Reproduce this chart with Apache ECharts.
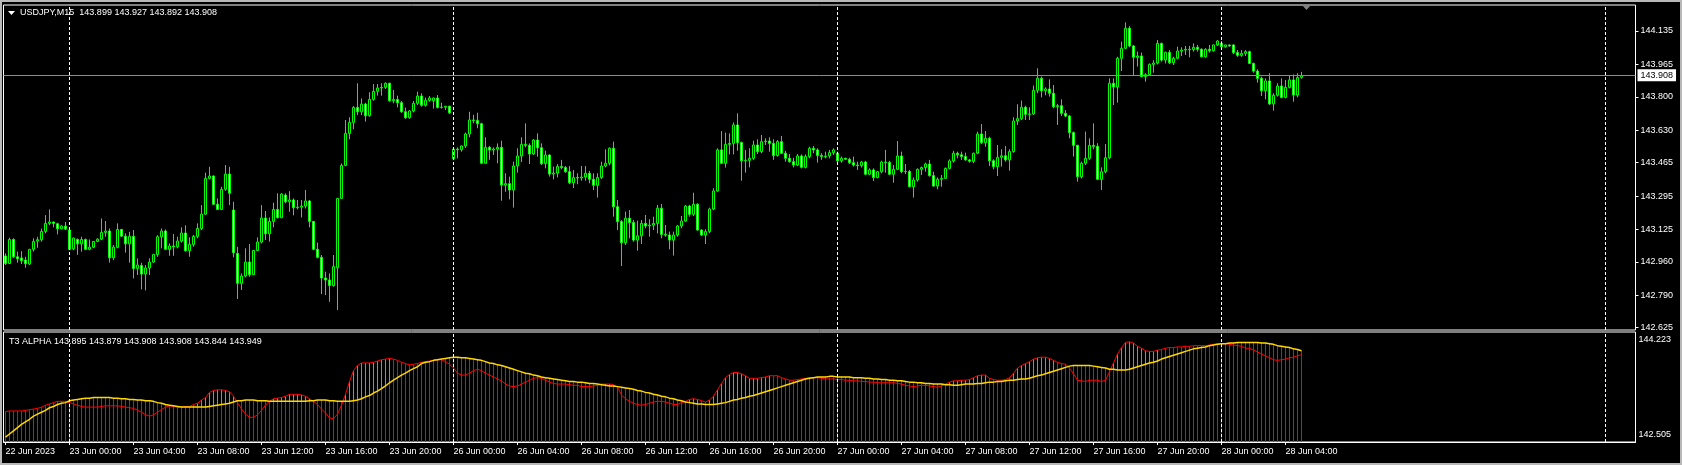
<!DOCTYPE html>
<html><head><meta charset="utf-8">
<script src="https://cdn.jsdelivr.net/npm/echarts@6/dist/echarts.min.js"></script>
<style>html,body{margin:0;padding:0;background:#000;overflow:hidden}#c{width:1682px;height:465px}</style>
</head><body><div id="c"></div>
<script>
// ---------------- data (USDJPY M15, 22 Jun 20:00 .. 28 Jun 05:00) ----------------
const open = [
142.990,142.952,143.074,142.986,142.980,142.969,142.949,143.024,143.066,143.073,
143.115,143.156,143.163,143.154,143.129,143.142,143.122,143.027,143.074,143.052,
143.074,143.024,143.035,143.064,143.076,143.110,143.117,142.981,143.034,143.125,
143.090,143.052,143.090,142.927,142.942,142.898,142.929,142.959,142.998,143.088,
143.117,143.024,143.041,143.037,143.066,143.107,143.017,143.049,143.090,143.130,
143.203,143.385,143.397,143.253,143.227,143.329,143.407,143.224,143.003,142.851,
142.888,142.959,142.895,143.018,143.061,143.183,143.103,143.166,143.227,143.185,
143.300,143.266,143.275,143.236,143.239,143.244,143.270,143.166,143.024,142.983,
142.878,142.868,142.839,142.930,143.283,143.451,143.614,143.670,143.746,143.724,
143.763,143.704,143.787,143.828,143.845,143.848,143.869,143.780,143.787,143.770,
143.724,143.694,143.728,143.767,143.804,143.757,143.782,143.780,143.794,143.746,
143.747,143.752,143.485,143.534,143.531,143.550,143.611,143.682,143.680,143.663,
143.462,143.543,143.529,143.534,143.543,143.351,143.358,143.326,143.448,143.499,
143.558,143.553,143.509,143.580,143.541,143.460,143.504,143.407,143.412,143.445,
143.440,143.419,143.363,143.389,143.387,143.392,143.411,143.380,143.350,143.389,
143.448,143.462,143.538,143.241,143.165,143.058,143.182,143.160,143.071,143.093,
143.156,143.143,143.147,143.156,143.233,143.100,143.097,143.071,143.097,143.143,
143.168,143.244,143.202,143.253,143.122,143.097,143.114,143.229,143.321,143.530,
143.462,143.558,143.563,143.657,143.567,143.475,143.477,143.487,143.555,143.521,
143.572,143.575,143.563,143.501,143.572,143.513,143.487,143.470,143.453,143.499,
143.441,143.496,143.538,143.530,143.501,143.496,143.499,143.516,143.513,143.475,
143.487,143.482,143.465,143.453,143.450,143.468,143.406,143.428,143.389,143.419,
143.468,143.466,143.406,143.431,143.499,143.419,143.420,143.343,143.377,143.431,
143.440,143.458,143.399,143.346,143.380,143.385,143.436,143.474,143.513,143.505,
143.496,143.479,143.472,143.513,143.611,143.567,143.589,143.475,143.445,143.492,
143.500,143.479,143.521,143.677,143.689,143.747,143.711,143.713,143.833,143.894,
143.831,143.840,143.818,143.750,143.755,143.716,143.702,143.618,143.553,143.394,
143.462,143.487,143.553,143.548,143.380,143.419,143.490,143.869,143.850,143.996,
144.047,144.149,144.059,144.001,144.008,143.903,143.913,143.965,143.972,144.072,
143.987,144.026,143.974,143.996,144.033,144.038,144.042,144.040,144.052,144.042,
144.004,144.042,144.035,144.064,144.072,144.055,144.064,144.064,144.025,144.011,
144.021,144.030,143.970,143.931,143.894,143.831,143.881,143.764,143.808,143.855,
143.797,143.848,143.886,143.809,143.899];
const close = [
142.952,143.074,142.986,142.976,142.966,142.951,143.024,143.064,143.073,143.115,
143.156,143.163,143.156,143.129,143.142,143.127,143.024,143.081,143.052,143.074,
143.024,143.035,143.064,143.076,143.110,143.117,142.981,143.035,143.125,143.091,
143.052,143.090,142.927,142.944,142.898,142.929,142.959,142.998,143.088,143.117,
143.024,143.041,143.037,143.066,143.107,143.017,143.049,143.090,143.130,143.203,
143.385,143.397,143.253,143.227,143.329,143.407,143.309,143.007,142.851,142.888,
142.959,142.895,143.018,143.061,143.183,143.103,143.166,143.227,143.185,143.305,
143.266,143.275,143.236,143.239,143.244,143.270,143.166,143.024,142.983,142.878,
142.868,142.840,142.936,143.283,143.451,143.614,143.670,143.746,143.724,143.763,
143.704,143.787,143.828,143.845,143.848,143.869,143.780,143.787,143.770,143.724,
143.694,143.728,143.767,143.804,143.757,143.782,143.794,143.794,143.746,143.747,
143.752,143.719,143.534,143.531,143.550,143.611,143.682,143.680,143.663,143.462,
143.543,143.529,143.534,143.543,143.351,143.358,143.326,143.448,143.499,143.558,
143.553,143.509,143.580,143.541,143.460,143.504,143.407,143.412,143.445,143.440,
143.419,143.363,143.389,143.387,143.392,143.411,143.380,143.350,143.389,143.448,
143.462,143.538,143.241,143.165,143.058,143.182,143.160,143.071,143.093,143.156,
143.143,143.147,143.156,143.233,143.100,143.097,143.071,143.097,143.143,143.168,
143.244,143.202,143.253,143.122,143.097,143.114,143.229,143.321,143.530,143.462,
143.558,143.563,143.657,143.567,143.475,143.477,143.487,143.555,143.521,143.572,
143.575,143.563,143.501,143.572,143.513,143.487,143.470,143.453,143.499,143.441,
143.496,143.538,143.530,143.501,143.496,143.499,143.516,143.530,143.475,143.487,
143.482,143.465,143.453,143.450,143.468,143.406,143.428,143.389,143.419,143.468,
143.466,143.406,143.431,143.499,143.419,143.420,143.343,143.377,143.431,143.440,
143.458,143.399,143.346,143.380,143.385,143.436,143.474,143.513,143.505,143.496,
143.479,143.472,143.513,143.611,143.567,143.589,143.475,143.445,143.492,143.500,
143.479,143.521,143.677,143.689,143.747,143.711,143.713,143.833,143.894,143.831,
143.840,143.818,143.750,143.755,143.716,143.702,143.618,143.553,143.394,143.462,
143.487,143.553,143.548,143.380,143.419,143.490,143.869,143.850,143.996,144.047,
144.149,144.059,144.001,144.008,143.903,143.913,143.965,143.972,144.072,143.987,
144.026,143.974,143.996,144.033,144.038,144.042,144.040,144.052,144.042,144.004,
144.042,144.035,144.064,144.084,144.055,144.064,144.059,144.025,144.011,144.021,
144.030,143.970,143.931,143.894,143.831,143.881,143.764,143.808,143.855,143.797,
143.848,143.886,143.809,143.898,143.908];
const low = [
142.944,142.949,142.980,142.956,142.949,142.930,142.945,143.012,143.032,143.063,
143.105,143.147,143.136,143.100,143.125,143.122,143.020,143.020,142.996,143.012,
143.020,143.020,143.030,143.062,143.071,143.088,142.956,142.969,143.029,143.088,
143.007,142.956,142.876,142.893,142.820,142.815,142.893,142.955,142.986,143.029,
143.020,142.991,142.991,143.029,143.058,143.012,142.986,143.037,143.080,143.122,
143.198,143.380,143.250,143.224,143.227,143.322,143.249,142.983,142.771,142.817,
142.881,142.884,142.893,143.015,143.054,143.071,143.063,143.136,143.181,143.183,
143.258,143.215,143.197,143.227,143.186,143.232,143.136,143.020,142.978,142.796,
142.791,142.757,142.834,142.715,143.283,143.448,143.584,143.635,143.707,143.707,
143.674,143.699,143.780,143.806,143.806,143.840,143.775,143.767,143.746,143.719,
143.687,143.689,143.721,143.758,143.750,143.750,143.775,143.740,143.741,143.740,
143.733,143.713,143.480,143.487,143.521,143.540,143.594,143.665,143.640,143.458,
143.460,143.479,143.504,143.462,143.271,143.317,143.278,143.236,143.414,143.468,
143.543,143.458,143.504,143.495,143.453,143.436,143.394,143.380,143.390,143.431,
143.414,143.356,143.336,143.355,143.373,143.373,143.360,143.326,143.287,143.382,
143.441,143.451,143.190,143.122,142.939,143.046,143.080,143.063,143.017,143.051,
143.131,143.088,143.122,143.105,143.080,143.088,143.024,142.992,143.088,143.131,
143.165,143.190,143.194,143.119,143.092,143.051,143.105,143.224,143.317,143.458,
143.440,143.507,143.507,143.526,143.373,143.414,143.441,143.479,143.509,143.513,
143.555,143.521,143.479,143.496,143.509,143.470,143.465,143.441,143.448,143.436,
143.436,143.487,143.513,143.465,143.479,143.487,143.487,143.504,143.465,143.465,
143.479,143.458,143.445,143.428,143.440,143.401,143.401,143.372,143.385,143.411,
143.414,143.401,143.363,143.428,143.411,143.407,143.340,143.287,143.368,143.402,
143.419,143.394,143.343,143.329,143.343,143.385,143.431,143.465,143.487,143.479,
143.475,143.465,143.462,143.509,143.560,143.546,143.448,143.431,143.397,143.445,
143.470,143.424,143.516,143.657,143.682,143.682,143.682,143.708,143.818,143.797,
143.808,143.801,143.742,143.657,143.702,143.696,143.589,143.496,143.368,143.385,
143.453,143.479,143.533,143.377,143.326,143.411,143.482,143.758,143.770,143.931,
144.042,144.052,143.911,143.954,143.899,143.877,143.908,143.923,143.965,143.979,
143.970,143.967,143.962,143.991,144.008,144.013,144.001,144.030,144.030,144.001,
143.999,144.025,144.030,144.059,144.047,144.050,144.055,144.018,144.004,144.004,
144.008,143.967,143.923,143.872,143.804,143.787,143.759,143.730,143.801,143.792,
143.792,143.843,143.775,143.797,143.892];
const high = [
143.003,143.083,143.080,143.012,143.015,142.986,143.026,143.080,143.088,143.130,
143.198,143.227,143.165,143.159,143.146,143.163,143.125,143.083,143.079,143.088,
143.079,143.074,143.066,143.080,143.181,143.168,143.130,143.046,143.156,143.128,
143.105,143.113,143.122,142.978,142.956,142.944,142.978,143.000,143.096,143.130,
143.125,143.054,143.102,143.088,143.136,143.146,143.085,143.097,143.156,143.249,
143.414,143.444,143.400,143.283,143.342,143.453,143.444,143.266,143.037,142.901,
143.029,143.051,143.020,143.085,143.249,143.219,143.186,143.261,143.309,143.310,
143.309,143.320,143.283,143.275,143.275,143.326,143.275,143.168,143.058,142.995,
142.910,142.901,142.995,143.283,143.461,143.682,143.696,143.753,143.869,143.792,
143.770,143.823,143.865,143.865,143.869,143.874,143.872,143.835,143.806,143.779,
143.745,143.733,143.779,143.826,143.818,143.796,143.804,143.796,143.809,143.770,
143.753,143.755,143.540,143.543,143.552,143.618,143.724,143.708,143.719,143.668,
143.594,143.550,143.543,143.563,143.577,143.411,143.394,143.470,143.538,143.594,
143.665,143.563,143.585,143.614,143.563,143.526,143.507,143.445,143.458,143.479,
143.448,143.448,143.428,143.411,143.448,143.448,143.423,143.411,143.411,143.470,
143.533,143.543,143.572,143.275,143.173,143.216,143.224,143.173,143.170,143.173,
143.199,143.177,143.190,143.250,143.255,143.148,143.114,143.114,143.148,143.194,
143.250,143.250,143.312,143.258,143.126,143.126,143.236,143.335,143.538,143.626,
143.618,143.614,143.670,143.716,143.572,143.530,143.538,143.577,143.584,143.606,
143.589,143.594,143.584,143.580,143.601,143.525,143.509,143.490,143.509,143.507,
143.507,143.546,143.550,143.538,143.513,143.521,143.530,143.538,143.521,143.496,
143.490,143.490,143.496,143.470,143.474,143.474,143.436,143.436,143.423,143.475,
143.530,143.474,143.453,143.575,143.521,143.458,143.428,143.390,143.436,143.445,
143.465,143.479,143.419,143.390,143.402,143.440,143.482,143.525,143.521,143.521,
143.516,143.484,143.516,143.623,143.662,143.626,143.597,143.482,143.555,143.533,
143.550,143.533,143.696,143.762,143.781,143.755,143.747,143.857,143.945,143.903,
143.848,143.889,143.860,143.764,143.787,143.733,143.708,143.623,143.556,143.470,
143.623,143.589,143.665,143.564,143.441,143.560,143.894,143.894,144.004,144.081,
144.179,144.160,144.064,144.030,144.025,143.920,143.970,143.987,144.089,144.076,
144.030,144.038,144.004,144.055,144.052,144.059,144.059,144.072,144.064,144.047,
144.047,144.064,144.067,144.089,144.084,144.066,144.066,144.067,144.038,144.038,
144.038,144.035,143.974,143.940,143.903,143.894,143.920,143.818,143.869,143.894,
143.886,143.911,143.914,143.920,143.927];

// T3 ALPHA sub-window
const t3Fast = [
142.98,142.99,142.99,142.99,142.99,143.00,143.01,143.02,143.03,143.05,
143.08,143.10,143.12,143.14,143.14,143.14,143.12,143.10,143.08,143.06,
143.05,143.05,143.05,143.05,143.06,143.07,143.07,143.07,143.07,143.06,
143.05,143.04,143.03,143.00,142.97,142.93,142.91,142.93,142.97,143.01,
143.05,143.07,143.06,143.05,143.05,143.06,143.06,143.09,143.11,143.16,
143.20,143.28,143.31,143.32,143.32,143.31,143.29,143.22,143.12,143.02,
142.94,142.89,142.89,142.93,143.00,143.08,143.14,143.18,143.19,143.20,
143.22,143.25,143.25,143.25,143.24,143.22,143.18,143.14,143.09,143.02,
142.96,142.88,142.87,142.94,143.08,143.25,143.45,143.62,143.70,143.74,
143.74,143.74,143.75,143.77,143.79,143.80,143.81,143.80,143.78,143.75,
143.73,143.71,143.72,143.73,143.75,143.76,143.77,143.78,143.79,143.79,
143.76,143.72,143.66,143.58,143.55,143.55,143.58,143.62,143.64,143.62,
143.58,143.55,143.52,143.49,143.46,143.41,143.38,143.37,143.38,143.41,
143.44,143.47,143.50,143.51,143.50,143.47,143.44,143.42,143.41,143.41,
143.41,143.40,143.39,143.39,143.37,143.37,143.37,143.38,143.39,143.41,
143.41,143.41,143.40,143.36,143.24,143.18,143.14,143.11,143.09,143.08,
143.09,143.11,143.13,143.14,143.14,143.13,143.11,143.09,143.09,143.12,
143.14,143.17,143.18,143.17,143.15,143.13,143.16,143.22,143.32,143.42,
143.51,143.56,143.59,143.59,143.57,143.54,143.50,143.50,143.50,143.51,
143.52,143.54,143.54,143.54,143.51,143.49,143.47,143.47,143.48,143.49,
143.50,143.51,143.51,143.51,143.50,143.49,143.49,143.49,143.48,143.48,
143.47,143.47,143.46,143.46,143.45,143.45,143.44,143.44,143.43,143.43,
143.43,143.43,143.43,143.42,143.41,143.39,143.38,143.37,143.38,143.39,
143.39,143.38,143.37,143.36,143.38,143.41,143.44,143.46,143.46,143.47,
143.47,143.48,143.51,143.54,143.55,143.55,143.50,143.48,143.47,143.47,
143.48,143.51,143.58,143.66,143.70,143.73,143.76,143.80,143.82,143.83,
143.83,143.81,143.78,143.75,143.73,143.72,143.66,143.57,143.47,143.46,
143.45,143.47,143.47,143.47,143.45,143.47,143.60,143.74,143.88,143.98,
144.06,144.07,144.05,144.00,143.97,143.93,143.92,143.92,143.94,143.95,
143.97,143.98,143.98,143.99,143.99,144.00,144.00,144.01,144.01,144.01,
144.01,144.02,144.03,144.04,144.04,144.04,144.03,144.02,144.01,144.00,
143.97,143.97,143.94,143.91,143.88,143.85,143.82,143.79,143.78,143.79,
143.80,143.82,143.83,143.85,143.87];
const t3Slow = [
142.58,142.63,142.68,142.73,142.78,142.82,142.86,142.91,142.94,142.97,
143.00,143.04,143.06,143.09,143.11,143.12,143.15,143.16,143.17,143.18,
143.19,143.19,143.20,143.20,143.20,143.20,143.20,143.19,143.19,143.18,
143.18,143.17,143.17,143.16,143.16,143.15,143.15,143.14,143.12,143.11,
143.09,143.08,143.07,143.06,143.05,143.05,143.05,143.05,143.05,143.05,
143.05,143.06,143.07,143.08,143.09,143.10,143.11,143.13,143.15,143.15,
143.16,143.16,143.16,143.15,143.15,143.15,143.14,143.14,143.14,143.14,
143.14,143.14,143.14,143.14,143.14,143.14,143.15,143.15,143.16,143.16,
143.16,143.15,143.15,143.14,143.14,143.14,143.14,143.15,143.16,143.18,
143.21,143.23,143.27,143.30,143.34,143.38,143.43,143.47,143.51,143.55,
143.58,143.62,143.65,143.68,143.73,143.75,143.76,143.78,143.79,143.80,
143.81,143.82,143.83,143.83,143.82,143.82,143.81,143.80,143.79,143.78,
143.76,143.74,143.73,143.71,143.70,143.68,143.66,143.64,143.62,143.60,
143.58,143.57,143.55,143.54,143.52,143.51,143.50,143.49,143.48,143.47,
143.46,143.45,143.45,143.44,143.44,143.43,143.42,143.42,143.41,143.40,
143.39,143.38,143.38,143.37,143.36,143.35,143.34,143.33,143.31,143.30,
143.28,143.27,143.25,143.24,143.22,143.21,143.19,143.18,143.16,143.15,
143.13,143.12,143.11,143.10,143.10,143.09,143.09,143.09,143.10,143.11,
143.12,143.14,143.16,143.17,143.19,143.20,143.22,143.23,143.25,143.27,
143.29,143.31,143.33,143.35,143.37,143.39,143.41,143.43,143.45,143.47,
143.49,143.50,143.51,143.52,143.52,143.52,143.53,143.53,143.52,143.52,
143.52,143.52,143.51,143.51,143.51,143.50,143.50,143.49,143.49,143.48,
143.48,143.47,143.47,143.46,143.46,143.45,143.44,143.44,143.43,143.43,
143.42,143.42,143.41,143.41,143.41,143.40,143.40,143.39,143.39,143.40,
143.41,143.41,143.41,143.42,143.42,143.43,143.44,143.44,143.45,143.45,
143.46,143.47,143.47,143.48,143.49,143.49,143.50,143.52,143.54,143.55,
143.57,143.59,143.61,143.63,143.65,143.67,143.69,143.70,143.70,143.70,
143.70,143.70,143.69,143.68,143.67,143.66,143.64,143.64,143.63,143.63,
143.63,143.64,143.66,143.68,143.70,143.72,143.74,143.75,143.77,143.80,
143.82,143.84,143.86,143.88,143.90,143.92,143.94,143.96,143.97,143.98,
143.99,144.01,144.02,144.03,144.04,144.04,144.05,144.05,144.06,144.06,
144.06,144.06,144.06,144.06,144.05,144.05,144.04,144.03,144.01,144.00,
143.99,143.98,143.96,143.95,143.93];
const histRed = [
142.98,142.99,142.99,142.99,142.99,143.00,143.01,143.02,143.03,143.05,
143.08,143.10,143.12,143.14,143.14,143.14,143.15,143.16,143.17,143.18,
143.19,143.19,143.20,143.20,143.20,143.20,143.20,143.19,143.19,143.18,
143.18,143.17,143.17,143.16,143.16,143.15,143.15,143.14,143.12,143.11,
143.09,143.08,143.07,143.06,143.05,143.06,143.06,143.09,143.05,143.05,
143.05,143.06,143.07,143.08,143.09,143.10,143.11,143.13,143.15,143.15,
143.16,143.16,143.16,143.15,143.15,143.15,143.14,143.14,143.14,143.14,
143.14,143.14,143.14,143.14,143.14,143.14,143.15,143.15,143.16,143.16,
143.16,143.15,143.15,143.14,143.14,143.14,143.14,143.15,143.16,143.18,
143.21,143.23,143.27,143.30,143.34,143.38,143.43,143.80,143.78,143.75,
143.73,143.71,143.72,143.73,143.75,143.76,143.77,143.78,143.79,143.80,
143.81,143.82,143.83,143.83,143.82,143.82,143.81,143.80,143.79,143.78,
143.76,143.74,143.73,143.71,143.70,143.68,143.66,143.64,143.62,143.60,
143.58,143.57,143.55,143.54,143.52,143.51,143.50,143.49,143.48,143.47,
143.46,143.45,143.45,143.44,143.44,143.43,143.42,143.42,143.41,143.40,
143.39,143.38,143.40,143.37,143.36,143.35,143.34,143.33,143.31,143.30,
143.28,143.27,143.25,143.24,143.22,143.21,143.19,143.18,143.16,143.15,
143.13,143.12,143.11,143.10,143.15,143.13,143.09,143.09,143.10,143.11,
143.12,143.14,143.16,143.17,143.19,143.20,143.22,143.23,143.25,143.27,
143.29,143.31,143.54,143.54,143.51,143.49,143.47,143.47,143.48,143.49,
143.50,143.51,143.51,143.52,143.52,143.52,143.53,143.53,143.52,143.52,
143.52,143.52,143.51,143.51,143.51,143.50,143.50,143.49,143.49,143.48,
143.48,143.47,143.47,143.46,143.46,143.45,143.44,143.44,143.43,143.43,
143.42,143.42,143.41,143.41,143.41,143.40,143.40,143.39,143.39,143.40,
143.41,143.41,143.41,143.42,143.42,143.43,143.50,143.48,143.47,143.47,
143.48,143.51,143.47,143.48,143.49,143.49,143.50,143.52,143.54,143.55,
143.57,143.59,143.61,143.75,143.73,143.72,143.69,143.70,143.70,143.70,
143.70,143.70,143.69,143.68,143.67,143.66,143.64,143.64,143.63,143.63,
143.63,143.64,143.66,143.68,143.70,143.72,143.74,143.75,143.77,143.95,
143.97,143.98,143.98,143.99,143.99,144.00,144.00,144.01,144.01,144.01,
144.01,144.02,144.03,144.04,144.04,144.04,144.05,144.05,144.06,144.06,
144.06,144.06,144.06,144.06,144.05,144.05,144.04,144.03,144.01,144.00,
143.99,143.98,143.96,143.95,143.93];
// green histogram bars: [bar index, value]
const histGreen = [
[48,143.11],[49,143.16],[50,143.20],[51,143.28],[52,143.31],[53,143.32],[54,143.32],[55,143.31],[56,143.29],[57,143.22],
[67,143.18],[68,143.19],[69,143.20],[70,143.22],[71,143.25],[72,143.25],[73,143.25],[74,143.24],[75,143.22],[76,143.18],
[85,143.25],[86,143.45],[87,143.62],[88,143.70],[89,143.74],[90,143.74],[91,143.74],[92,143.75],[93,143.77],[94,143.79],[95,143.80],[96,143.81],
[149,143.41],[150,143.41],[151,143.41],
[170,143.14],[171,143.17],[172,143.18],[173,143.17],
[176,143.16],[177,143.22],[178,143.32],[179,143.42],[180,143.51],[181,143.56],[182,143.59],[183,143.59],[184,143.57],[185,143.54],
[186,143.50],[187,143.50],[188,143.50],[189,143.51],[190,143.52],[191,143.54],
[235,143.41],[236,143.44],[237,143.46],[238,143.46],[239,143.47],[240,143.47],[241,143.48],[242,143.51],[243,143.54],[244,143.55],[245,143.55],
[252,143.58],[253,143.66],[254,143.70],[255,143.73],[256,143.76],[257,143.80],[258,143.82],[259,143.83],[260,143.83],[261,143.81],[262,143.78],
[277,143.74],[278,143.88],[279,143.98],[280,144.06],[281,144.07],[282,144.05],[283,144.00],[284,143.97],[285,143.93],[286,143.92],[287,143.92],[288,143.94]
];

const tickLabels = ['22 Jun 2023','23 Jun 00:00','23 Jun 04:00','23 Jun 08:00','23 Jun 12:00','23 Jun 16:00','23 Jun 20:00',
  '26 Jun 00:00','26 Jun 04:00','26 Jun 08:00','26 Jun 12:00','26 Jun 16:00','26 Jun 20:00',
  '27 Jun 00:00','27 Jun 04:00','27 Jun 08:00','27 Jun 12:00','27 Jun 16:00','27 Jun 20:00',
  '28 Jun 00:00','28 Jun 04:00'];
const tickStep = 16;            // bars between time labels (4 h of M15)
const daySeps = [16,112,208,304,400];
const slotCount = 408;          // bar slots incl. empty right margin
const priceTicks = [144.135,143.965,143.800,143.630,143.465,143.295,143.125,142.960,142.790,142.625];
const priceMax = 144.2673, priceMin = 142.6134;
const indMax = 144.223, indMin = 142.505;
const lastPrice = 143.908;
const headerMain = 'USDJPY,M15  143.899 143.927 143.892 143.908';
const headerInd = 'T3 ALPHA 143.895 143.879 143.908 143.908 143.844 143.949';

// ---------------- chart ----------------
const cats = Array.from({length: slotCount}, (_, i) => String(i));
const candles = open.map((o, i) => [o, close[i], low[i], high[i]]);
const FONT = '"Liberation Sans", Arial, sans-serif';
const tickShown = (i) => i % tickStep === 0 && i / tickStep < tickLabels.length;
const sepLines = daySeps.map(d => ({xAxis: String(d), lineStyle: {color: '#ffffff', type: [3, 2], width: 1}, label: {show: false}}));

const chart = echarts.init(document.getElementById('c'), null, {renderer: 'canvas', width: 1682, height: 465});
chart.setOption({
  animation: false,
  backgroundColor: '#000000',
  textStyle: {fontFamily: FONT},
  grid: [
    {left: 3.5, top: 5, width: 1632, height: 325, show: true, borderColor: '#ffffff', borderWidth: 1, backgroundColor: '#000', outerBoundsMode: 'none', containLabel: false},
    {left: 3.5, top: 332, width: 1632, height: 110, show: true, borderColor: '#ffffff', borderWidth: 1, backgroundColor: '#000', outerBoundsMode: 'none', containLabel: false}
  ],
  xAxis: [
    {type: 'category', gridIndex: 0, data: cats, boundaryGap: true,
     axisLine: {show: false}, axisTick: {show: false}, axisLabel: {show: false}, splitLine: {show: false}},
    {type: 'category', gridIndex: 1, data: cats, boundaryGap: true,
     axisLine: {show: true, lineStyle: {color: '#ffffff', width: 1}},
     axisTick: {show: true, alignWithLabel: true, interval: tickShown, length: 3, lineStyle: {color: '#ffffff'}},
     axisLabel: {show: true, interval: tickShown, formatter: (v) => tickLabels[Number(v) / tickStep],
       color: '#ffffff', fontSize: 9, fontFamily: FONT, align: 'left', margin: 5},
     splitLine: {show: false}}
  ],
  yAxis: [
    {type: 'value', gridIndex: 0, position: 'right', min: priceMin, max: priceMax,
     axisLine: {show: false}, splitLine: {show: false},
     axisTick: {show: true, customValues: priceTicks, length: 3, lineStyle: {color: '#ffffff'}},
     axisLabel: {show: true, customValues: priceTicks, formatter: (v) => v.toFixed(3), color: '#ffffff', fontSize: 9, fontFamily: FONT, margin: 5}},
    {type: 'value', gridIndex: 1, position: 'right', min: indMin, max: indMax,
     axisLine: {show: false}, splitLine: {show: false}, axisTick: {show: false},
     axisLabel: {show: true, customValues: [indMax - 0.125, indMin + 0.11],
       formatter: (v) => (v > (indMax + indMin) / 2 ? indMax : indMin).toFixed(3),
       color: '#ffffff', fontSize: 9, fontFamily: FONT, margin: 3}}
  ],
  series: [
    {type: 'candlestick', xAxisIndex: 0, yAxisIndex: 0, data: candles, barWidth: 3,
     itemStyle: {color: '#000000', color0: '#ffffff', borderColor: '#00ff00', borderColor0: '#00ff00', borderColorDoji: '#00ff00', borderWidth: 1},
     markLine: {silent: true, symbol: ['none', 'none'],
       data: [{yAxis: lastPrice, lineStyle: {color: '#8c8c8c', type: 'solid', width: 1},
               label: {show: true, position: 'end', formatter: lastPrice.toFixed(3), color: '#000000', backgroundColor: '#ffffff',
                       padding: [2, 3, 1, 3], fontSize: 9, fontFamily: FONT, distance: 2}}].concat(sepLines)}},
    {type: 'bar', xAxisIndex: 1, yAxisIndex: 1, data: histGreen, barWidth: 1, barGap: '-100%', clip: true,
     itemStyle: {color: '#32cd32'}},
    {type: 'bar', xAxisIndex: 1, yAxisIndex: 1, data: histRed, barWidth: 1, barGap: '-100%', clip: true,
     itemStyle: {color: '#ff0000'},
     markLine: {silent: true, symbol: ['none', 'none'], data: sepLines}},
    {type: 'line', xAxisIndex: 1, yAxisIndex: 1, data: t3Fast, symbol: 'none', lineStyle: {color: '#ff0000', width: 1}, clip: true},
    {type: 'line', xAxisIndex: 1, yAxisIndex: 1, data: t3Slow, symbol: 'none', lineStyle: {color: '#ffd700', width: 1.5}, clip: true}
  ],
  graphic: [
    {type: 'rect', shape: {x: 1, y: 1, width: 1680, height: 463}, style: {fill: null, stroke: '#b8b8b8', lineWidth: 2}, silent: true},
    {type: 'polygon', shape: {points: [[8, 11], [15, 11], [11.5, 15]]}, style: {fill: '#ffffff'}, silent: true},
    {type: 'text', style: {text: headerMain, x: 20, y: 13, fill: '#ffffff', font: '9px ' + FONT, verticalAlign: 'middle'}, silent: true},
    {type: 'text', style: {text: headerInd, x: 9, y: 342, fill: '#ffffff', font: '9px ' + FONT, verticalAlign: 'middle'}, silent: true},
    {type: 'polygon', shape: {points: [[1302, 5], [1311, 5], [1306.5, 10]]}, style: {fill: '#808080'}, silent: true}
  ]
});
</script></body></html>
